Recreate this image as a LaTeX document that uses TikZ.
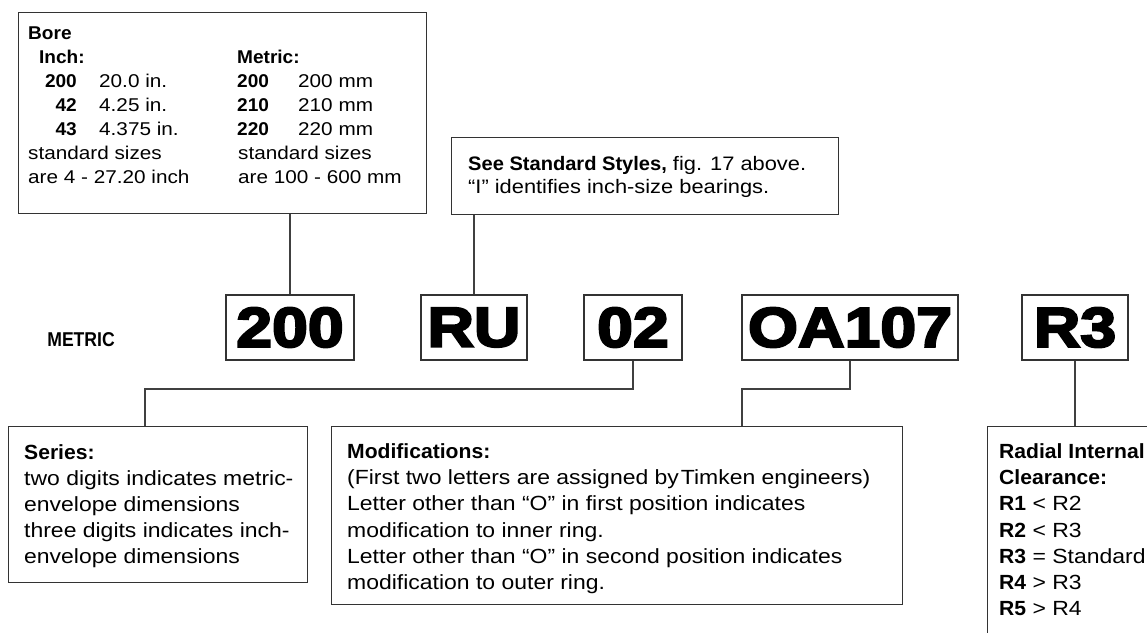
\documentclass[tikz,border=0pt]{standalone}
\usepackage{fontspec}
\setmainfont{Liberation Sans}[UprightFeatures={FakeStretch=1.12}, BoldFeatures={FakeStretch=1.03}]
\newfontfamily\codefont{Liberation Sans}[FakeStretch=1.15, BoldFeatures={FakeBold=4}]
\newfontfamily\condfont{Liberation Sans}[FakeStretch=0.88]
\tikzset{
  box/.style={draw=black!80, line width=1.2pt, rectangle, inner sep=0pt, anchor=north west},
  conn/.style={draw=black!75, line width=1.2pt},
  code/.style={draw=black!80, line width=1.2pt, rectangle, inner sep=0pt, anchor=center,
    minimum height=65pt, font=\codefont\bfseries\fontsize{56}{56}\selectfont},
  txt/.style={anchor=base west, inner sep=0pt, font=\fontsize{20.5}{26}\selectfont},
  stxt/.style={anchor=base west, inner sep=0pt, font=\fontsize{18.5}{24}\selectfont},
  seetxt/.style={anchor=base west, inner sep=0pt, font=\fontsize{19.5}{24}\selectfont},
  snum/.style={stxt, anchor=base east, font=\fontsize{18.5}{24}\selectfont\bfseries}
}
\begin{document}
\begin{tikzpicture}[x=1pt, y=-1pt]
\useasboundingbox (0,0) rectangle (1147,632);
\clip (0,0) rectangle (1147,632);

% boxes
\node[box, minimum width=408pt, minimum height=201pt] (bore) at (18,12) {};
\node[box, minimum width=387pt, minimum height=77pt] (see) at (451,137) {};
\node[box, minimum width=299pt, minimum height=156pt] (series) at (8,426) {};
\node[box, minimum width=571pt, minimum height=178pt] (mods) at (331,426) {};
\node[box, minimum width=250pt, minimum height=250pt] (radial) at (987,426) {};

% code boxes
\node[code, minimum width=128pt] (c200) at (290,327.5) {200};
\node[code, minimum width=106pt] (cru) at (474,327.5) {RU};
\node[code, minimum width=98pt] (c02) at (633,327.5) {02};
\node[code, minimum width=216pt] (coa) at (850,327.5) {OA107};
\node[code, minimum width=106pt] (cr3) at (1075,327.5) {R3};

\node[anchor=base east, inner sep=0pt, font=\condfont\bfseries\fontsize{20}{24}\selectfont] (metric) at (115,346) {METRIC};

% connectors
\draw[conn] (bore.south -| c200.north) -- (c200.north);
\draw[conn] (see.south -| cru.north) -- (cru.north);
\coordinate (j1) at (145,389);
\coordinate (j2) at (742,389);
\draw[conn] (c02.south) |- (j1) -- (j1 |- series.north);
\draw[conn] (coa.south) |- (j2) -- (j2 |- mods.north);
\draw[conn] (cr3.south) -- (cr3.south |- radial.north);

% bore text
\node[stxt] (b0) at (28,39) {\textbf{Bore}};
\node[stxt] (b1) at (39,63) {\textbf{Inch:}};
\node[snum] (b2) at (77,87) {200};
\node[stxt] (b3) at (99,87) {20.0 in.};
\node[snum] (b4) at (77,111) {42};
\node[stxt] (b5) at (99,111) {4.25 in.};
\node[snum] (b6) at (77,135) {43};
\node[stxt] (b7) at (99,135) {4.375 in.};
\node[stxt] (b8) at (28,159) {standard sizes};
\node[stxt] (b9) at (28,183) {are 4 - 27.20 inch};
\node[stxt] (m1) at (237,63) {\textbf{Metric:}};
\node[stxt] (m2) at (237,87) {\textbf{200}};
\node[stxt] (m3) at (298,87) {200 mm};
\node[stxt] (m4) at (237,111) {\textbf{210}};
\node[stxt] (m5) at (298,111) {210 mm};
\node[stxt] (m6) at (237,135) {\textbf{220}};
\node[stxt] (m7) at (298,135) {220 mm};
\node[stxt] (m8) at (238,159) {standard sizes};
\node[stxt] (m9) at (238,183) {are 100 - 600 mm};

% see text
\node[seetxt] (s1) at (468,170) {\textbf{See Standard Styles,} fig. 17 above.};
\node[seetxt] (s2) at (468,193) {“I” identifies inch-size bearings.};

% series text
\node[txt] (r1) at (24,459) {\textbf{Series:}};
\node[txt] (r2) at (24,485) {two digits indicates metric-};
\node[txt] (r3) at (24,511) {envelope dimensions};
\node[txt] (r4) at (24,537) {three digits indicates inch-};
\node[txt] (r5) at (24,563) {envelope dimensions};

% modifications text
\node[txt] (o1) at (347,458) {\textbf{Modifications:}};
\node[txt] (o2) at (347,484) {(First two letters are assigned by\kern2pt Timken engineers)};
\node[txt] (o3) at (347,510) {Letter other than “O” in first position indicates};
\node[txt] (o4) at (347,537) {modification to inner ring.};
\node[txt] (o5) at (347,563) {Letter other than “O” in second position indicates};
\node[txt] (o6) at (347,589) {modification to outer ring.};

% radial text
\node[txt] (q1) at (999,458) {\textbf{Radial Internal}};
\node[txt] (q2) at (999,484) {\textbf{Clearance:}};
\node[txt] (q3) at (999,510) {\textbf{R1} < R2};
\node[txt] (q4) at (999,537) {\textbf{R2} < R3};
\node[txt] (q5) at (999,563) {\textbf{R3} = Standard};
\node[txt] (q6) at (999,589) {\textbf{R4} > R3};
\node[txt] (q7) at (999,615) {\textbf{R5} > R4};
\end{tikzpicture}
\end{document}
